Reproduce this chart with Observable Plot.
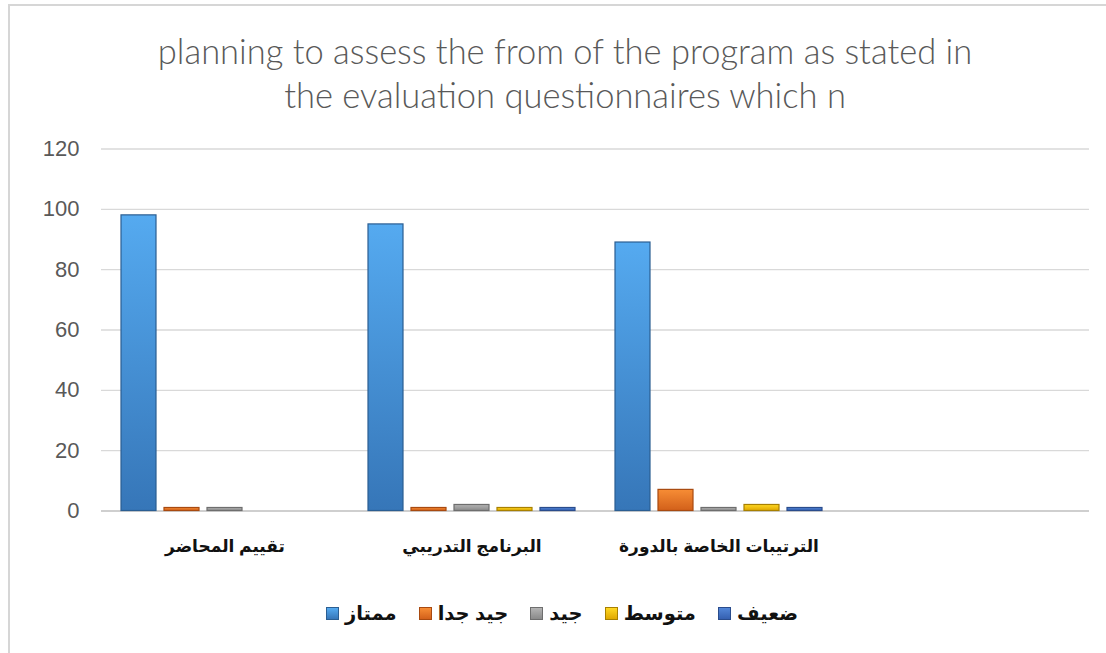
<!DOCTYPE html>
<html><head><meta charset="utf-8">
<script src="https://cdn.jsdelivr.net/npm/d3@7"></script>
<script src="https://cdn.jsdelivr.net/npm/@observablehq/plot@0.6"></script>
<style>
body{margin:0;background:#fff;width:1106px;height:653px;overflow:hidden;position:relative;font-family:"Liberation Sans",Arial,"DejaVu Sans",sans-serif}
#frame{position:absolute;left:8px;top:4px;width:1110px;height:660px;border-left:2px solid #d6d6d6;border-top:2px solid #d6d6d6}
#title{position:absolute;left:24px;top:29px;width:1082px;text-align:center;font-family:Lato,"Open Sans",sans-serif;font-weight:300;font-size:34.5px;line-height:44px;color:#595959}
#chart{position:absolute;left:0;top:130px}
#legend{position:absolute;left:0;top:600px;width:1106px;height:26px;display:flex;justify-content:center;align-items:center;direction:ltr;padding-left:18px;box-sizing:border-box}
.item{display:flex;align-items:center;margin:0 11px;font-weight:bold;font-size:19.5px;color:#111}
.sw{width:13px;height:13px;margin-right:6px;box-sizing:border-box}
</style></head><body>
<div id="frame"></div>
<div id="title">planning to assess the from of the program as stated in<br>the evaluation questionnaires which n</div>
<svg width="0" height="0" style="position:absolute"><defs id="defs"></defs></svg>
<div id="chart"></div>
<div id="legend"></div>
<script>
const categories = ["تقييم المحاضر", "البرنامج التدريبي", "الترتيبات الخاصة بالدورة", ""];
const series = ["ممتاز", "جيد جدا", "جيد", "متوسط", "ضعيف"];
const valuesExcellent = [98, 95, 89];
const valuesVeryGood = [1, 1, 7];
const valuesGood = [1, 2, 1];
const valuesAverage = [0, 1, 2];
const valuesWeak = [0, 1, 1];
const yTicks = [0, 20, 40, 60, 80, 100, 120];
const colorTop = ["#55aaf0", "#f78d35", "#b4b4b4", "#ffd824", "#5286d8"];
const colorBottom = ["#3676b8", "#d2601a", "#8a8a8a", "#e0a800", "#3560b0"];
const colorEdge = ["#2b5e92", "#a84a10", "#6e6e6e", "#a88000", "#2a4c8c"];

const allValues = [valuesExcellent, valuesVeryGood, valuesGood, valuesAverage, valuesWeak];

// gradients
const defs = document.getElementById("defs");
series.forEach((s, i) => {
  const g = document.createElementNS("http://www.w3.org/2000/svg", "linearGradient");
  g.setAttribute("id", "g" + i);
  g.setAttribute("x1", "0"); g.setAttribute("y1", "0"); g.setAttribute("x2", "0"); g.setAttribute("y2", "1");
  [[0, colorTop[i]], [1, colorBottom[i]]].forEach(([o, c]) => {
    const st = document.createElementNS("http://www.w3.org/2000/svg", "stop");
    st.setAttribute("offset", o); st.setAttribute("stop-color", c);
    g.appendChild(st);
  });
  defs.appendChild(g);
});

// gridlines carried in every category facet (so the empty fourth slot is kept)
const gridRows = categories.flatMap(c => yTicks.map(t => ({category: c, tick: t})));

const marks = [
  Plot.ruleY(gridRows.filter(d => d.tick > 0), {fx: "category", y: "tick", stroke: "#d9d9d9", strokeWidth: 1.3}),
  Plot.ruleY(gridRows.filter(d => d.tick === 0), {fx: "category", y: "tick", stroke: "#cfcfcf", strokeWidth: 2})
];
series.forEach((s, i) => {
  const rows = categories.slice(0, 3).map((c, j) => ({category: c, series: s, value: allValues[i][j]})).filter(d => d.value > 0);
  marks.push(Plot.barY(rows, {fx: "category", x: "series", y: "value", fill: `url(#g${i})`, stroke: colorEdge[i], strokeWidth: 1.2}));
});
marks.push(Plot.axisY({ticks: yTicks, tickSize: 0, tickPadding: 22, fontSize: 22, color: "#595959", label: null}));
marks.push(Plot.axisFx({anchor: "bottom", tickSize: 0, tickPadding: 29, fontSize: 17, fontWeight: "bold", color: "#111", label: null}));

const chart = Plot.plot({
  width: 1106,
  height: 440,
  marginTop: 18.5,
  marginBottom: 59.5,
  marginLeft: 100,
  marginRight: 16,
  style: {fontFamily: '"Liberation Sans", Arial, "DejaVu Sans", sans-serif', background: "transparent"},
  fx: {domain: categories, padding: 0, label: null},
  x: {domain: series, paddingInner: 0.18, paddingOuter: 0.42, axis: null},
  y: {domain: [0, 120], axis: null},
  marks
});
document.getElementById("chart").appendChild(chart);

const legend = document.getElementById("legend");
series.forEach((s, i) => {
  const it = document.createElement("div"); it.className = "item";
  const sw = document.createElement("span"); sw.className = "sw";
  sw.style.background = `linear-gradient(${colorTop[i]}, ${colorBottom[i]})`;
  sw.style.border = `1px solid ${colorEdge[i]}`;
  const t = document.createElement("span"); t.textContent = s;
  it.appendChild(sw); it.appendChild(t);
  legend.appendChild(it);
});
</script>
</body></html>
